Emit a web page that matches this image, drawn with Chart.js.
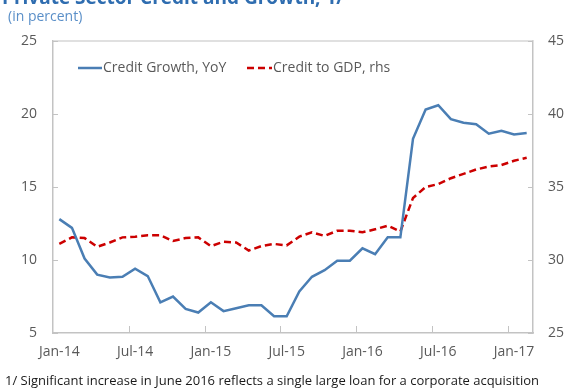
<!DOCTYPE html>
<html lang="en">
<head>
  <meta charset="UTF-8">
  <title>Private Sector Credit and Growth</title>
  <script src="https://cdn.jsdelivr.net/npm/chart.js"></script>
  <style>
    html, body { margin: 0; padding: 0; background: #fff; }
    #wrap { width: 584px; height: 392px; }
  </style>
</head>
<body>
  <div id="wrap"><canvas id="creditChart" width="584" height="392"></canvas></div>

  <script>
    // monthly observations, Jan-14 .. Feb-17
    const months = [
      'Jan-14', 'Feb-14', 'Mar-14', 'Apr-14', 'May-14', 'Jun-14', 'Jul-14', 'Aug-14', 'Sep-14', 'Oct-14', 'Nov-14', 'Dec-14',
      'Jan-15', 'Feb-15', 'Mar-15', 'Apr-15', 'May-15', 'Jun-15', 'Jul-15', 'Aug-15', 'Sep-15', 'Oct-15', 'Nov-15', 'Dec-15',
      'Jan-16', 'Feb-16', 'Mar-16', 'Apr-16', 'May-16', 'Jun-16', 'Jul-16', 'Aug-16', 'Sep-16', 'Oct-16', 'Nov-16', 'Dec-16',
      'Jan-17', 'Feb-17'
    ];

    // credit growth, YoY (left axis)
    const creditGrowth = [
      12.8, 12.2, 10.1, 9.0, 8.8, 8.85, 9.4, 8.9, 7.1, 7.5, 6.65, 6.4,
      7.1, 6.5, 6.7, 6.9, 6.9, 6.15, 6.15, 7.85, 8.85, 9.3, 9.95, 9.95,
      10.8, 10.4, 11.55, 11.55, 18.3, 20.3, 20.6, 19.65, 19.4, 19.3, 18.65, 18.85,
      18.6, 18.7
    ];

    // credit to GDP (right axis)
    const creditToGdp = [
      31.1, 31.55, 31.5, 30.9, 31.2, 31.55, 31.6, 31.7, 31.7, 31.3, 31.5, 31.55,
      30.95, 31.25, 31.2, 30.65, 30.95, 31.1, 31.0, 31.6, 31.9, 31.65, 32.0, 32.0,
      31.9, 32.1, 32.35, 31.95, 34.25, 35.0, 35.2, 35.6, 35.9, 36.2, 36.4, 36.5,
      36.8, 37.0
    ];

    const leftTicks = [5, 10, 15, 20, 25];
    const rightTicks = [25, 30, 35, 40, 45];

    const seriesNames = ['Credit Growth, YoY', 'Credit to GDP, rhs'];
    const titleText = 'Private Sector Credit and Growth, 1/';
    const subtitleText = '(in percent)';
    const footnoteText = '1/ Significant increase in June 2016 reflects a single large loan for a corporate acquisition';

    const BLUE = '#4a7eb4';
    const RED = '#cc0000';
    const AXIS = '#c3c3c3';
    const LABEL = '#595959';
    const FONT = '"Open Sans", "Noto Sans", sans-serif';

    // title, subtitle, legend, footnote, inward tick marks and the top border
    const decorations = {
      id: 'decorations',
      afterDraw(chart) {
        const ctx = chart.ctx;
        const area = chart.chartArea;
        const x = chart.scales.x;
        const yL = chart.scales.y;
        const yR = chart.scales.y1;

        ctx.save();

        // top border of the plot box
        ctx.strokeStyle = '#d6d6d6';
        ctx.lineWidth = 1.5;
        ctx.beginPath();
        ctx.moveTo(area.left, area.top);
        ctx.lineTo(area.right, area.top);
        ctx.stroke();

        // tick marks pointing into the plot
        ctx.strokeStyle = AXIS;
        ctx.lineWidth = 1;
        ctx.beginPath();
        leftTicks.forEach(v => {
          const py = Math.round(yL.getPixelForValue(v)) + 0.5;
          ctx.moveTo(area.left, py);
          ctx.lineTo(area.left + 5, py);
        });
        rightTicks.forEach(v => {
          const py = Math.round(yR.getPixelForValue(v)) + 0.5;
          ctx.moveTo(area.right, py);
          ctx.lineTo(area.right - 5, py);
        });
        for (let i = 6; i < months.length; i += 6) {
          const px = Math.round((x.getPixelForValue(i - 1) + x.getPixelForValue(i)) / 2) + 0.5;
          ctx.moveTo(px, area.bottom);
          ctx.lineTo(px, area.bottom - 7);
        }
        ctx.stroke();

        // legend inside the plot
        ctx.font = '14px ' + FONT;
        ctx.fillStyle = LABEL;
        ctx.textBaseline = 'middle';
        ctx.textAlign = 'left';
        const ly = 68;
        ctx.lineWidth = 2.5;
        ctx.strokeStyle = BLUE;
        ctx.setLineDash([]);
        ctx.beginPath();
        ctx.moveTo(78, ly);
        ctx.lineTo(102, ly);
        ctx.stroke();
        ctx.fillText(seriesNames[0], 103, ly);

        ctx.strokeStyle = RED;
        ctx.setLineDash([7, 4]);
        ctx.beginPath();
        ctx.moveTo(247, ly);
        ctx.lineTo(272, ly);
        ctx.stroke();
        ctx.setLineDash([]);
        ctx.fillText(seriesNames[1], 273, ly);

        // heading, partly above the canvas edge
        ctx.fillStyle = '#2f6db0';
        ctx.font = 'bold 19px ' + FONT;
        ctx.textBaseline = 'alphabetic';
        ctx.fillText(titleText, 2, 4);

        ctx.fillStyle = '#5a8fc8';
        ctx.font = '14px ' + FONT;
        ctx.textBaseline = 'middle';
        ctx.fillText(subtitleText, 8, 17);

        // footnote
        ctx.fillStyle = '#1a1a1a';
        ctx.font = '13px ' + FONT;
        ctx.fillText(footnoteText, 5, 381, 576);

        ctx.restore();
      }
    };

    new Chart(document.getElementById('creditChart'), {
      type: 'line',
      data: {
        labels: months,
        datasets: [
          {
            label: seriesNames[0],
            data: creditGrowth,
            yAxisID: 'y',
            borderColor: BLUE,
            borderWidth: 2.5,
            pointRadius: 0,
            tension: 0,
            fill: false
          },
          {
            label: seriesNames[1],
            data: creditToGdp,
            yAxisID: 'y1',
            borderColor: RED,
            borderWidth: 2.5,
            borderDash: [7, 4],
            pointRadius: 0,
            tension: 0,
            fill: false
          }
        ]
      },
      options: {
        responsive: false,
        animation: false,
        layout: { padding: { top: 41, left: 0, right: 0, bottom: 0 } },
        plugins: {
          legend: { display: false },
          tooltip: { enabled: false }
        },
        scales: {
          x: {
            type: 'category',
            offset: true,
            grid: { display: false, drawTicks: false },
            border: { display: true, color: AXIS, width: 1.5 },
            ticks: {
              autoSkip: false,
              maxRotation: 0,
              padding: 11,
              color: LABEL,
              font: { family: FONT, size: 14 },
              callback: (v, i) => (i % 6 === 0 ? months[i] : '')
            },
            afterFit: s => { s.height = 59; }
          },
          y: {
            position: 'left',
            min: 5,
            max: 25,
            grid: { display: false, drawTicks: false },
            border: { display: true, color: AXIS, width: 1.5 },
            ticks: {
              stepSize: 5,
              padding: 16,
              color: LABEL,
              font: { family: FONT, size: 14 }
            },
            afterFit: s => { s.width = 53; }
          },
          y1: {
            position: 'right',
            min: 25,
            max: 45,
            grid: { display: false, drawTicks: false },
            border: { display: true, color: AXIS, width: 1.5 },
            ticks: {
              stepSize: 5,
              padding: 15,
              color: LABEL,
              font: { family: FONT, size: 14 }
            },
            afterFit: s => { s.width = 51; }
          }
        }
      },
      plugins: [decorations]
    });
  </script>
</body>
</html>
